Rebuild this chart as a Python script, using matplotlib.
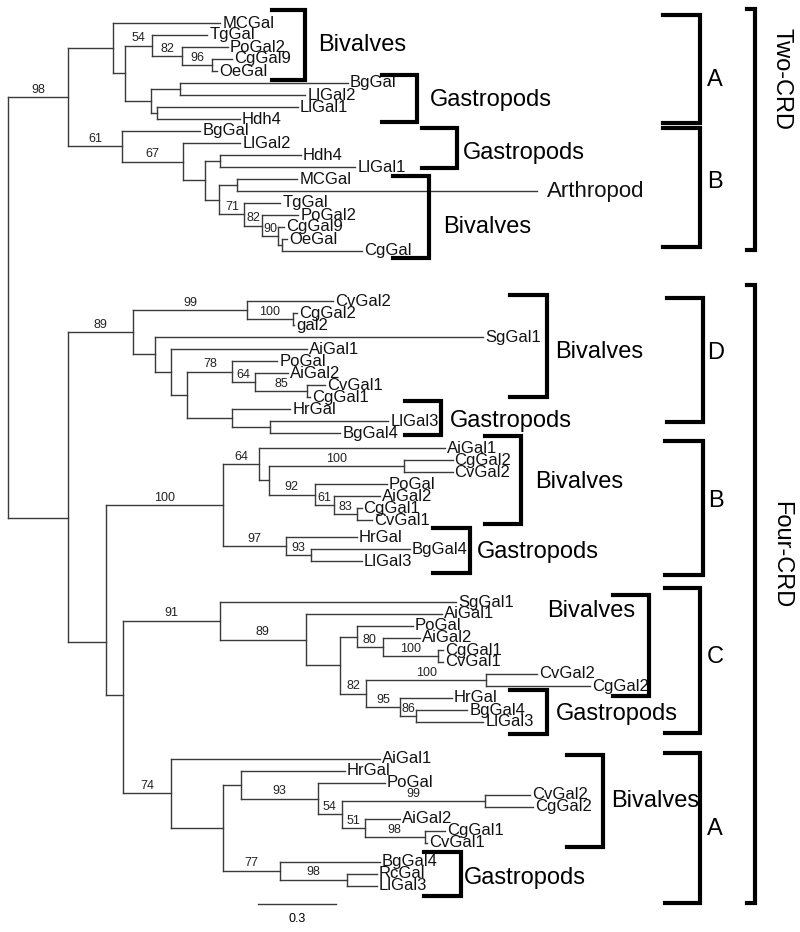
import matplotlib
matplotlib.use("Agg")
import matplotlib.pyplot as plt

plt.rcParams['font.family'] = ['Liberation Sans', 'DejaVu Sans']

# ---- tree data: one newick string per clade, branch lengths in substitutions/site,
# internal labels are bootstrap values ----
two_crd_a = ("(MCGal:0.412,((TgGal:0.212,(PoGal2:0.177,(CgGal9:0.077,OeGal:0.019)96:0.115)82:0.115)54:0.104,"
             "((BgGal:0.646,LlGal2:0.481):0.112,(LlGal1:0.542,Hdh4:0.319):0.023):0.100):0.046)")
two_crd_b = ("(BgGal:0.300,(LlGal2:0.219,((Hdh4:0.308,LlGal1:0.519):0.058,((MCGal:0.231,Arthropod:1.154):0.069,"
             "(TgGal:0.138,(PoGal2:0.138,(CgGal9:0.023,(OeGal:0.019,CgGal:0.308):0.015)90:0.062)82:0.069)71:0.096)"
             ":0.054):0.085)67:0.235)61")
four_crd_d = ("((CvGal2:0.331,(CgGal2:0.015,gal2:0.004)100:0.177)99:0.438,(SgGal1:1.262,(AiGal1:0.523,"
              "((PoGal:0.173,(AiGal2:0.127,(CvGal1:0.069,CgGal1:0.012)85:0.200)64:0.088)78:0.173,"
              "(HrGal:0.223,(LlGal3:0.454,BgGal4:0.269):0.146):0.173):0.062):0.062):0.085)89")
four_crd_b = ("((AiGal1:0.715,((CgGal2:0.188,CvGal2:0.188)100:0.519,(PoGal:0.277,(AiGal2:0.177,"
              "(CgGal1:0.019,CvGal1:0.058)83:0.088)61:0.073)92:0.177):0.038)64:0.138,"
              "(HrGal:0.273,(BgGal4:0.381,LlGal3:0.196)93:0.096)97:0.242)100")
four_crd_c = ("(SgGal1:0.908,(AiGal1:0.523,((PoGal:0.215,(AiGal2:0.142,(CgGal1:0.019,CvGal1:0.019)100:0.212)80:0.100)"
              ":0.065,((CvGal2:0.196,CgGal2:0.400)100:0.462,(HrGal:0.200,(BgGal4:0.196,LlGal3:0.258)86:0.062)95:0.131)"
              "82:0.100):0.131)89:0.331)91")
four_crd_a = ("(AiGal1:0.804,((HrGal:0.400,(PoGal:0.258,((CvGal2:0.173,CgGal2:0.185)99:0.550,(AiGal2:0.135,"
              "(CgGal1:0.077,CvGal1:0.008)98:0.231)51:0.088)54:0.092)93:0.296):0.069,"
              "(BgGal4:0.385,(RcGal:0.115,LlGal3:0.115)98:0.258)77:0.219):0.200)74")

# backbone branch lengths
two_crd_stem = 0.231
two_a_stem, two_b_stem = 0.173, 0.208
four_crd_stem = 0.231
four_d_stem, four_rest_stem = 0.250, 0.146
four_b_stem, four_ca_stem = 0.450, 0.065
four_c_stem, four_a_stem = 0.373, 0.185
scale_len = 0.3

# extra vertical space (in leaf rows) before some clades / leaves
clade_gap = {"D": 3.17, "B": 0.25, "C": 2.41, "A": 2.08}
leaf_gap = {("B", "HrGal"): 0.42, ("A", "BgGal4"): 0.58}

# annotation brackets (pixel layout): x_left, x_right, y_top, y_bottom, label, label_x, label_baseline
group_brackets = [
    (272, 305, 10, 80, "Bivalves", 318, 51),
    (382, 417, 75, 122, "Gastropods", 430, 106),
    (422, 457, 128, 168, "Gastropods", 463, 159),
    (393, 429, 176, 258, "Bivalves", 443, 233),
    (510, 547, 295, 397, "Bivalves", 555, 358),
    (405, 441, 401, 435, "Gastropods", 450, 427),
    (485, 521, 436, 524, "Bivalves", 535, 488),
    (433, 470, 528, 573, "Gastropods", 477, 558),
    (613, 649, 595, 696, "Bivalves", 547, 617),
    (510, 547, 690, 734, "Gastropods", 556, 720),
    (567, 603, 755, 847, "Bivalves", 611, 807),
    (424, 461, 852, 896, "Gastropods", 464, 884),
]
letter_brackets = [
    (663, 700, 15, 123, "A", 715, 86),
    (663, 700, 128, 247, "B", 715, 188),
    (667, 703, 298, 422, "D", 716, 359),
    (665, 703, 441, 575, "B", 716, 507),
    (665, 700, 588, 733, "C", 715, 663),
    (665, 700, 753, 903, "A", 715, 835),
]
domain_brackets = [
    (747, 755, 9, 250, "Two-CRD", 781, 79),
    (747, 755, 285, 903, "Four-CRD", 781, 555),
]


def parse_newick(s):
    pos = 0

    def node():
        nonlocal pos
        n = {"children": [], "name": "", "length": 0.0}
        if s[pos] == "(":
            pos += 1
            while True:
                n["children"].append(node())
                if s[pos] == ",":
                    pos += 1
                    continue
                pos += 1
                break
        start = pos
        while pos < len(s) and s[pos] not in ",();":
            pos += 1
        label, _, length = s[start:pos].partition(":")
        n["name"] = label
        n["length"] = float(length) if length else 0.0
        return n

    return node()


def clade(newick, length, key=None):
    n = parse_newick(newick)
    n["length"] = length
    if key:
        n["gap"] = clade_gap[key]
        for (k, name), g in leaf_gap.items():
            if k == key:
                stack = [n]
                while stack:
                    c = stack.pop()
                    if not c["children"] and c["name"] == name:
                        c["gap"] = g
                    stack.extend(c["children"])
    return n


def join(children, length=0.0, label="", frac=0.5):
    # frac: where the node sits between its first and last child (drawing only)
    return {"children": children, "name": label, "length": length, "frac": frac}


tree = join([
    join([clade(two_crd_a, two_a_stem), clade(two_crd_b, two_b_stem)], two_crd_stem, "98"),
    join([clade(four_crd_d, four_d_stem, "D"),
          join([clade(four_crd_b, four_b_stem, "B"),
                join([clade(four_crd_c, four_c_stem, "C"),
                      clade(four_crd_a, four_a_stem, "A")], four_ca_stem, frac=0.43)],
               four_rest_stem, frac=0.72)],
         four_crd_stem, frac=0.6),
])

cursor = 0.0


def layout(n, x0):
    global cursor
    n["x"] = x0 + n["length"]
    cursor += n.get("gap", 0.0)
    if n["children"]:
        for c in n["children"]:
            layout(c, n["x"])
        y0, y1 = n["children"][0]["y"], n["children"][-1]["y"]
        n["y"] = y0 + n.get("frac", 0.5) * (y1 - y0)
    else:
        n["y"] = cursor
        cursor += 1


layout(tree, 0.0)

# ---- figure ----
W, H = 800, 932
px_unit, root_px, row_px, first_row_px = 260.0, 8, 12.0, 23
fig = plt.figure(figsize=(W / 100, H / 100), dpi=100)
ax = fig.add_axes([0, 0, 1, 1])
ax.set_xlim(-root_px / px_unit, (W - root_px) / px_unit)
ax.set_ylim((H - first_row_px) / row_px, -first_row_px / row_px)
ax.axis('off')

line_kw = dict(color='#3a3a3a', lw=1.0, solid_capstyle='projecting')


def draw(n, parent=None):
    if parent is not None:
        ax.plot([parent["x"], n["x"]], [n["y"], n["y"]], **line_kw)
        if n["children"] and n["name"]:
            ax.text((parent["x"] + n["x"]) / 2, n["y"] - 0.12, n["name"], fontsize=9,
                    ha='center', va='bottom', color='#222222')
    if n["children"]:
        ax.plot([n["x"], n["x"]], [n["children"][0]["y"], n["children"][-1]["y"]], **line_kw)
        for c in n["children"]:
            draw(c, n)
    else:
        size = 16 if n["name"] == "Arthropod" else 12
        pad = 10 if n["name"] == "Arthropod" else 2
        ax.text(n["x"] + pad / px_unit, n["y"], n["name"], fontsize=size,
                ha='left', va='center', color='#111111')


draw(tree)

# scale bar
sb_x, sb_y = 250 / px_unit, (904 - first_row_px) / row_px
ax.plot([sb_x, sb_x + scale_len], [sb_y, sb_y], **line_kw)
ax.text(sb_x + scale_len / 2, sb_y + 1.25, f"{scale_len:g}", fontsize=9, ha='center', va='center')

# ---- bracket annotations (pixel overlay) ----
ov = fig.add_axes([0, 0, 1, 1])
ov.set_xlim(0, W)
ov.set_ylim(H, 0)
ov.axis('off')
ov.patch.set_alpha(0)

for xl, xr, yt, yb, lab, lx, ly in group_brackets + letter_brackets:
    ov.plot([xl, xr, xr, xl], [yt, yt, yb, yb], color='black', lw=3.0, solid_joinstyle='miter')
    ov.text(lx, ly, lab, fontsize=17, ha='left' if len(lab) > 1 else 'center', va='baseline')

for xl, xr, yt, yb, lab, lx, ly in domain_brackets:
    ov.plot([xl, xr, xr, xl], [yt, yt, yb, yb], color='black', lw=3.0, solid_joinstyle='miter')
    ov.text(lx, ly, lab, fontsize=17, rotation=-90, ha='center', va='center')

fig.savefig("out.png", dpi=100)
